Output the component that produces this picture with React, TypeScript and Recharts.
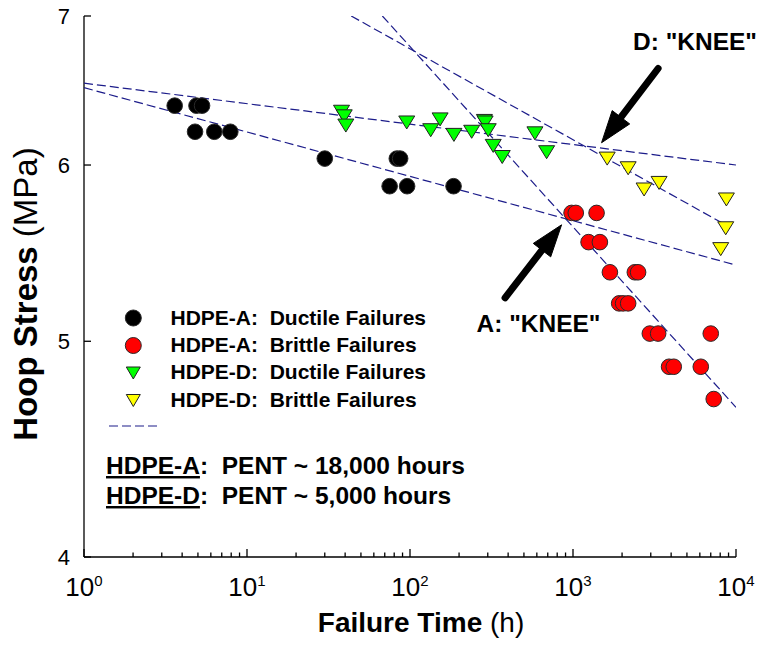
import { ScatterChart, Scatter, XAxis, YAxis, ReferenceLine } from 'recharts'

const FONT = '"Liberation Sans", Arial, Helvetica, sans-serif'
const NAVY = '#1c1c8a'

// HDPE-A ductile failures (black circles)
const aDuctileHours = [3.6, 4.9, 5.3, 4.8, 6.3, 7.9, 30, 83, 87, 75, 96, 185]
const aDuctileMPa = [6.38, 6.38, 6.38, 6.21, 6.21, 6.21, 6.04, 6.04, 6.04, 5.87, 5.87, 5.87]

// HDPE-A brittle failures (red circles)
const aBrittleHours = [980, 1040, 1395, 1246, 1462, 1684, 2395, 2508, 1920, 2030, 2180, 2960, 3330, 7000, 3885, 4150, 6080, 7300]
const aBrittleMPa = [5.71, 5.71, 5.71, 5.54, 5.54, 5.37, 5.37, 5.37, 5.2, 5.2, 5.2, 5.04, 5.04, 5.04, 4.87, 4.87, 4.87, 4.71]

// HDPE-D ductile failures (green triangles)
const dDuctileHours = [38, 39.5, 40.4, 95.5, 134, 153, 186, 239, 286, 289, 302, 324, 368, 584, 689]
const dDuctileMPa = [6.34, 6.31, 6.25, 6.27, 6.22, 6.29, 6.19, 6.21, 6.28, 6.27, 6.22, 6.12, 6.05, 6.2, 6.08]

// HDPE-D brittle failures (yellow triangles)
const dBrittleHours = [1621, 2180, 2730, 3374, 8730, 8650, 8060]
const dBrittleMPa = [6.04, 5.98, 5.85, 5.89, 5.79, 5.62, 5.5]

// fitted lines (dashed)
const aDuctileFitHours = [1, 10000]
const aDuctileFitMPa = [6.5, 5.41]
const dDuctileFitHours = [1, 10000]
const dDuctileFitMPa = [6.53, 6.0]
const aBrittleFitHours = [67.7, 10000]
const aBrittleFitMPa = [7, 4.67]
const dBrittleFitHours = [43.6, 8260]
const dBrittleFitMPa = [7, 5.65]

// knee arrows: tail -> tip
const kneeDHours = [3327, 1497]
const kneeDMPa = [6.63, 6.14]
const kneeAHours = [383, 851]
const kneeAMPa = [5.23, 5.64]

const decades = [1, 10, 100, 1000, 10000]
const minorSteps = [2, 3, 4, 5, 6, 7, 8, 9]
const yTicks = [4, 5, 6, 7]

const xTicks = decades.flatMap((d, i) => (i < decades.length - 1 ? [d, ...minorSteps.map(m => m * d)] : [d]))

const zip = (xs: number[], ys: number[]) => xs.map((x, i) => ({ x, y: ys[i] }))

const circle = (fill: string) => (p: any) => (
  <circle cx={p.cx} cy={p.cy} r={7.8} fill={fill} stroke="#2a2a2a" strokeWidth={1} />
)

const triangle = (fill: string) => (p: any) => (
  <path
    d={`M${p.cx - 8},${p.cy - 6.5} L${p.cx + 8},${p.cy - 6.5} L${p.cx},${p.cy + 6.5} Z`}
    fill={fill}
    stroke="#222"
    strokeWidth={1}
  />
)

const noDot = () => <g />

const XTick = (p: any) => {
  const v = p.payload.value
  const exp = Math.round(Math.log10(v))
  const major = Math.abs(Math.log10(v) - exp) < 1e-6
  return (
    <g>
      <line x1={p.x} x2={p.x} y1={p.y} y2={p.y - (major ? 8 : 4.5)} stroke="#000" strokeWidth={1.3} />
      {major && (
        <text x={p.x} y={p.y + 39} textAnchor="middle" fontFamily={FONT} fontSize={26} fill="#000">
          <tspan>10</tspan>
          <tspan fontSize={15} dy={-10}>{exp}</tspan>
        </text>
      )}
    </g>
  )
}

const YTick = (p: any) => (
  <g>
    <line x1={p.x + 14} x2={p.x + 21} y1={p.y} y2={p.y} stroke="#000" strokeWidth={1.3} />
    <text x={p.x} y={p.y} dy="0.36em" textAnchor="end" fontFamily={FONT} fontSize={22} fill="#000">
      {p.payload.value}
    </text>
  </g>
)

const Arrow = (p: any) => {
  const { x1, y1, x2, y2 } = p
  const dx = x2 - x1
  const dy = y2 - y1
  const len = Math.sqrt(dx * dx + dy * dy)
  const ux = dx / len
  const uy = dy / len
  const head = 32
  const half = 11
  const bx = x2 - ux * head
  const by = y2 - uy * head
  return (
    <g>
      <line x1={x1} y1={y1} x2={bx + ux * 4} y2={by + uy * 4} stroke="#000" strokeWidth={7} strokeLinecap="round" />
      <path
        d={`M${x2},${y2} L${bx - uy * half},${by + ux * half} L${bx + uy * half},${by - ux * half} Z`}
        fill="#000"
        stroke="#000"
        strokeWidth={1}
        strokeLinejoin="round"
      />
    </g>
  )
}

const fitLine = { stroke: NAVY, strokeWidth: 1.2, strokeDasharray: '9 4' }

const legendRows = [
  { label: 'HDPE-A:  Ductile Failures', kind: 'circle', fill: '#000000' },
  { label: 'HDPE-A:  Brittle Failures', kind: 'circle', fill: '#ff0000' },
  { label: 'HDPE-D:  Ductile Failures', kind: 'tri', fill: '#00ff00' },
  { label: 'HDPE-D:  Brittle Failures', kind: 'tri', fill: '#ffff00' },
]

const pentRows = [
  { name: 'HDPE-A', text: ':  PENT ~ 18,000 hours' },
  { name: 'HDPE-D', text: ':  PENT ~ 5,000 hours' },
]

export default function App() {
  const kneeD = zip(kneeDHours, kneeDMPa)
  const kneeA = zip(kneeAHours, kneeAMPa)
  return (
    <div style={{ position: 'absolute', left: 0, top: 0, width: 759, height: 654, background: '#fff' }}>
      <ScatterChart width={759} height={654} margin={{ top: 16, right: 23, bottom: 0, left: 0 }}>
        <XAxis
          type="number"
          dataKey="x"
          scale="log"
          domain={[1, 10000]}
          ticks={xTicks}
          allowDataOverflow
          height={97}
          tickSize={0}
          tickMargin={0}
          tickLine={false}
          tick={<XTick />}
          stroke="#000"
          strokeWidth={1.3}
          interval={0}
        />
        <YAxis
          type="number"
          dataKey="y"
          scale="log"
          domain={[4, 7]}
          ticks={yTicks}
          allowDataOverflow
          width={84}
          tickSize={0}
          tickMargin={14}
          tickLine={false}
          tick={<YTick />}
          stroke="#000"
          strokeWidth={1.3}
          interval={0}
        />
        <Scatter data={zip(dDuctileFitHours, dDuctileFitMPa)} line={fitLine} shape={noDot} isAnimationActive={false} />
        <Scatter data={zip(aDuctileFitHours, aDuctileFitMPa)} line={fitLine} shape={noDot} isAnimationActive={false} />
        <Scatter data={zip(aBrittleFitHours, aBrittleFitMPa)} line={fitLine} shape={noDot} isAnimationActive={false} />
        <Scatter data={zip(dBrittleFitHours, dBrittleFitMPa)} line={fitLine} shape={noDot} isAnimationActive={false} />
        <Scatter data={zip(aDuctileHours, aDuctileMPa)} shape={circle('#000000')} isAnimationActive={false} />
        <Scatter data={zip(aBrittleHours, aBrittleMPa)} shape={circle('#ff0000')} isAnimationActive={false} />
        <Scatter data={zip(dDuctileHours, dDuctileMPa)} shape={triangle('#00ff00')} isAnimationActive={false} />
        <Scatter data={zip(dBrittleHours, dBrittleMPa)} shape={triangle('#ffff00')} isAnimationActive={false} />
        <ReferenceLine
          segment={kneeD}
          ifOverflow="visible"
          shape={(p: any) => <Arrow {...p} />}
        />
        <ReferenceLine
          segment={kneeA}
          ifOverflow="visible"
          shape={(p: any) => <Arrow {...p} />}
        />
      </ScatterChart>
      <svg
        width={759}
        height={654}
        style={{ position: 'absolute', left: 0, top: 0, pointerEvents: 'none' }}
        fontFamily={FONT}
      >
        <text x={421} y={632} textAnchor="middle" fontSize={28} fill="#000">
          <tspan fontWeight="bold">Failure Time</tspan>
          <tspan> (h)</tspan>
        </text>
        <text x={36.5} y={294} textAnchor="middle" fontSize={33} fill="#000" transform="rotate(-90 36.5 294)">
          <tspan fontWeight="bold">Hoop Stress</tspan>
          <tspan> (MPa)</tspan>
        </text>
        {legendRows.map((r, i) => {
          const cy = 318 + i * 27.5
          return (
            <g key={r.label}>
              {r.kind === 'circle' ? (
                <circle cx={133.3} cy={cy} r={8} fill={r.fill} stroke="#2a2a2a" strokeWidth={1} />
              ) : (
                <path
                  d={`M${133.3 - 7},${cy - 6} L${133.3 + 7},${cy - 6} L${133.3},${cy + 6} Z`}
                  fill={r.fill}
                  stroke="#222"
                  strokeWidth={1}
                />
              )}
              <text x={170.5} y={325 + i * 27.2} fontSize={21} fontWeight="bold" fill="#000" style={{ whiteSpace: 'pre' }}>
                {r.label}
              </text>
            </g>
          )
        })}
        <line x1={109} x2={159} y1={426} y2={426} stroke={NAVY} strokeWidth={1.2} strokeDasharray="9 4" />
        {pentRows.map((r, i) => (
          <text
            key={r.name}
            x={106}
            y={474 + i * 30}
            fontSize={24.5}
            fontWeight="bold"
            fill="#000"
            style={{ whiteSpace: 'pre' }}
          >
            <tspan textDecoration="underline">{r.name}</tspan>
            <tspan>{r.text}</tspan>
          </text>
        ))}
        <text x={633} y={50} fontSize={24.5} fontWeight="bold" fill="#000">
          D: "KNEE"
        </text>
        <text x={476.5} y={331.5} fontSize={24.5} fontWeight="bold" fill="#000">
          A: "KNEE"
        </text>
      </svg>
    </div>
  )
}
